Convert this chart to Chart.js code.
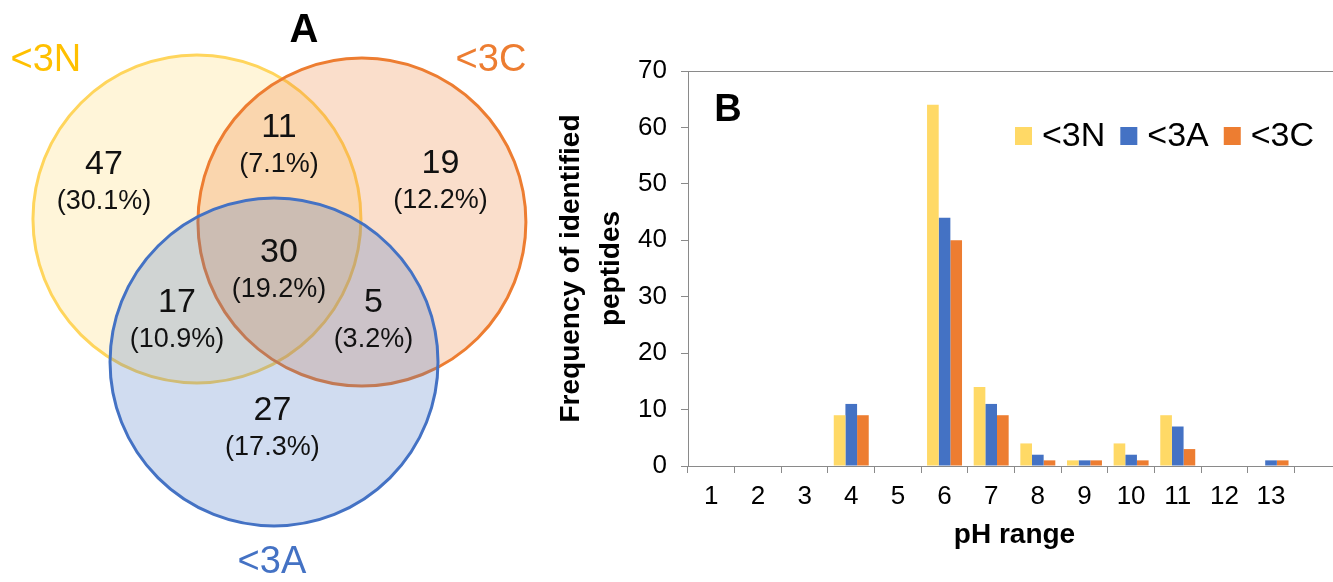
<!DOCTYPE html>
<html>
<head>
<meta charset="utf-8">
<script src="https://cdn.jsdelivr.net/npm/chart.js@4.4.1/dist/chart.umd.min.js"></script>
<style>
  html, body { margin: 0; padding: 0; background: #fff; overflow: hidden; }
  #wrap { position: relative; width: 1333px; height: 582px; overflow: hidden; }
  #venn { position: absolute; left: 0; top: 0; }
  #bars { position: absolute; left: 540px; top: 0; }
</style>
</head>
<body>
<div id="wrap">
  <canvas id="venn" width="540" height="582"></canvas>
  <canvas id="bars" width="810" height="582"></canvas>
</div>
<script>
const FONT = "'Liberation Sans', Arial, Helvetica, sans-serif";

// ---- data: panel A (Venn) ----
const setNames = ["<3N", "<3C", "<3A"];
const vennRegions = ["N only", "N+C", "C only", "N+C+A", "N+A", "C+A", "A only"];
const vennCounts = [47, 11, 19, 30, 17, 5, 27];
const vennPercents = ["30.1%", "7.1%", "12.2%", "19.2%", "10.9%", "3.2%", "17.3%"];

// ---- data: panel B (bars) ----
const phLabels = ["1", "2", "3", "4", "5", "6", "7", "8", "9", "10", "11", "12", "13", ""];
const freq3N = [0, 0, 0, 9, 0, 64, 14, 4, 1, 4, 9, 0, 0, null];
const freq3A = [0, 0, 0, 11, 0, 44, 11, 2, 1, 2, 7, 0, 1, null];
const freq3C = [0, 0, 0, 9, 0, 40, 9, 1, 1, 1, 3, 0, 1, null];

const YELLOW = "#FFD966";
const BLUE = "#4472C4";
const ORANGE = "#ED7D31";
const AXIS_GREY = "#8a8a8a";

// Venn layout in circle-radius units (radius = 1), origin at the centroid
const VENN_LAYOUT = {
  circles: [
    { cx: -0.494, cy: 0.299, stroke: "#FFD55C", fill: "rgba(255, 217, 102, 0.25)" }, // <3N
    { cx: 0.512, cy: 0.280, stroke: ORANGE, fill: "rgba(237, 125, 49, 0.25)" },      // <3C
    { cx: -0.024, cy: -0.573, stroke: BLUE, fill: "rgba(68, 114, 196, 0.25)" },      // <3A
  ],
  regionAnchors: [
    { x: -1.061, y: 0.518 },
    { x: 0.006, y: 0.747 },
    { x: 0.991, y: 0.524 },
    { x: 0.006, y: -0.018 },
    { x: -0.616, y: -0.320 },
    { x: 0.582, y: -0.320 },
    { x: -0.034, y: -0.982 },
  ],
  setLabelAnchors: [
    { x: -1.415, y: 1.262 },
    { x: 1.299, y: 1.268 },
    { x: -0.037, y: -1.799 },
  ],
  setLabelColors: ["#FFC000", ORANGE, BLUE],
  panelAnchor: { x: 0.159, y: 1.445 },
};

const vennPlugin = {
  id: "vennDraw",
  beforeDatasetsDraw(chart) {
    const { ctx, scales: { x, y } } = chart;
    ctx.save();
    VENN_LAYOUT.circles.forEach((c) => {
      const px = x.getPixelForValue(c.cx);
      const py = y.getPixelForValue(c.cy);
      const rx = Math.abs(x.getPixelForValue(c.cx + 1) - px);
      const ry = Math.abs(y.getPixelForValue(c.cy + 1) - py);
      ctx.beginPath();
      ctx.ellipse(px, py, rx, ry, 0, 0, Math.PI * 2);
      ctx.fillStyle = c.fill;
      ctx.fill();
      ctx.lineWidth = 3;
      ctx.strokeStyle = c.stroke;
      ctx.stroke();
    });
    ctx.restore();
  },
  afterDatasetsDraw(chart) {
    const { ctx } = chart;
    ctx.save();
    ctx.textAlign = "center";
    ctx.textBaseline = "middle";

    const regionMeta = chart.getDatasetMeta(0);
    regionMeta.data.forEach((pt, i) => {
      ctx.fillStyle = "#111";
      ctx.font = "34px " + FONT;
      ctx.fillText(String(vennCounts[i]), pt.x, pt.y - 18);
      ctx.font = "27px " + FONT;
      ctx.fillText("(" + vennPercents[i] + ")", pt.x, pt.y + 19);
    });

    const labelMeta = chart.getDatasetMeta(1);
    labelMeta.data.forEach((pt, i) => {
      ctx.fillStyle = VENN_LAYOUT.setLabelColors[i];
      ctx.font = "38px " + FONT;
      ctx.fillText(setNames[i], pt.x, pt.y);
    });

    const a = chart.getDatasetMeta(2).data[0];
    ctx.fillStyle = "#000";
    ctx.font = "bold 40px " + FONT;
    ctx.fillText("A", a.x, a.y);
    ctx.restore();
  },
};

new Chart(document.getElementById("venn"), {
  type: "scatter",
  data: {
    datasets: [
      { label: "regions", data: VENN_LAYOUT.regionAnchors, pointRadius: 0 },
      { label: "sets", data: VENN_LAYOUT.setLabelAnchors, pointRadius: 0 },
      { label: "panel", data: [VENN_LAYOUT.panelAnchor], pointRadius: 0 },
    ],
  },
  options: {
    responsive: false,
    animation: false,
    devicePixelRatio: 1,
    layout: { padding: 0 },
    plugins: { legend: { display: false }, tooltip: { enabled: false } },
    scales: {
      x: { type: "linear", min: -1.695, max: 1.598, display: false },
      y: { type: "linear", min: -1.915, max: 1.634, display: false },
    },
  },
  plugins: [vennPlugin],
});

// legend + panel letter for the bar chart
const barExtras = {
  id: "barExtras",
  afterDraw(chart) {
    const { ctx, chartArea } = chart;
    ctx.save();
    ctx.fillStyle = "#000";
    ctx.font = "bold 38px " + FONT;
    ctx.textAlign = "center";
    ctx.textBaseline = "middle";
    ctx.fillText("B", chartArea.left + 40, chartArea.top + 40);

    ctx.font = "34px " + FONT;
    ctx.textAlign = "left";
    let x = chartArea.left + 327;
    const yMid = chartArea.top + 65;
    chart.data.datasets.forEach((ds) => {
      ctx.fillStyle = ds.backgroundColor;
      ctx.fillRect(x, yMid - 9, 17, 18);
      ctx.fillStyle = "#000";
      ctx.fillText(ds.label, x + 27, yMid + 1);
      x += 27 + ctx.measureText(ds.label).width + 15;
    });
    ctx.restore();
  },
};

new Chart(document.getElementById("bars"), {
  type: "bar",
  data: {
    labels: phLabels,
    datasets: [
      { label: "<3N", data: freq3N, backgroundColor: YELLOW },
      { label: "<3A", data: freq3A, backgroundColor: BLUE },
      { label: "<3C", data: freq3C, backgroundColor: ORANGE },
    ],
  },
  options: {
    responsive: false,
    animation: false,
    devicePixelRatio: 1,
    layout: { padding: { top: 71, right: 9, bottom: 0, left: 0 } },
    datasets: { bar: { categoryPercentage: 0.75, barPercentage: 1.0, borderWidth: 0 } },
    plugins: { legend: { display: false }, tooltip: { enabled: false } },
    scales: {
      x: {
        offset: true,
        grid: { offset: true, drawOnChartArea: false, tickLength: 7, color: AXIS_GREY },
        border: { color: AXIS_GREY, width: 1 },
        ticks: { color: "#000", font: { family: FONT, size: 26 }, padding: 8, maxRotation: 0, autoSkip: false },
        title: {
          display: true,
          text: "pH range",
          color: "#000",
          font: { family: FONT, size: 28, weight: "bold" },
          padding: { top: 0, bottom: 30 },
        },
        afterFit: (s) => { s.height = 116; },
      },
      y: {
        min: 0,
        max: 70,
        ticks: { stepSize: 10, color: "#000", font: { family: FONT, size: 26 }, padding: 14 },
        grid: {
          color: (c) => (c.tick && c.tick.value === 70 ? AXIS_GREY : "rgba(0,0,0,0)"),
          tickColor: AXIS_GREY,
          tickLength: 7,
        },
        border: { color: AXIS_GREY, width: 1 },
        title: {
          display: true,
          text: ["Frequency of identified", "peptides"],
          color: "#000",
          font: { family: FONT, size: 28, weight: "bold", lineHeight: 1.4 },
          padding: { top: 12, bottom: 0 },
        },
        afterFit: (s) => { s.width = 148; },
      },
    },
  },
  plugins: [barExtras],
});
</script>
</body>
</html>
